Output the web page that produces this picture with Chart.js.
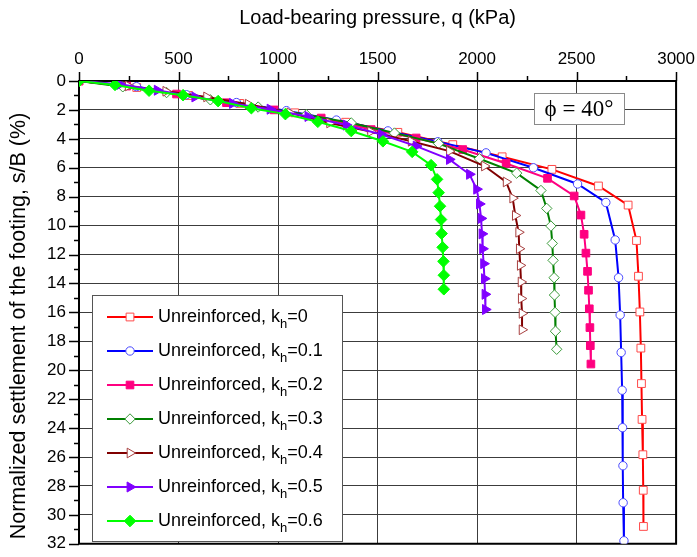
<!DOCTYPE html>
<html><head><meta charset="utf-8">
<script src="https://cdn.jsdelivr.net/npm/chart.js@4/dist/chart.umd.min.js"></script>
<style>html,body{margin:0;padding:0;background:#fff;}</style>
</head><body>
<canvas id="c" width="697" height="557"></canvas>
<script>
// ---- data ----
const khLabels = ['0', '0.1', '0.2', '0.3', '0.4', '0.5', '0.6'];
const xTickLabels = [0, 500, 1000, 1500, 2000, 2500, 3000];
const yTickLabels = [0, 2, 4, 6, 8, 10, 12, 14, 16, 18, 20, 22, 24, 26, 28, 30, 32];

const q_kh0  = [0, 290, 550, 808, 1084, 1340, 1602, 1878, 2126, 2376, 2610, 2759, 2801, 2811, 2818, 2823, 2826, 2829, 2833, 2835, 2836];
const s_kh0  = [0, 0.45, 1.0, 1.55, 2.2, 2.85, 3.55, 4.4, 5.24, 6.11, 7.26, 8.58, 11.03, 13.5, 15.97, 18.47, 20.92, 23.4, 25.84, 28.3, 30.8];

const q_kh01 = [0, 289, 540, 791, 1042, 1293, 1552, 1803, 2045, 2283, 2505, 2647, 2694, 2711, 2719, 2724, 2729, 2731, 2733, 2734, 2738];
const s_kh01 = [0, 0.39, 0.95, 1.49, 2.05, 2.7, 3.45, 4.2, 4.97, 6.0, 7.12, 8.4, 10.99, 13.6, 16.18, 18.77, 21.38, 23.97, 26.6, 29.16, 31.79];

const q_kh02 = [0, 240, 490, 741, 980, 1217, 1468, 1694, 1928, 2146, 2354, 2488, 2522, 2538, 2547, 2555, 2560, 2564, 2567, 2569, 2572];
const s_kh02 = [0, 0.35, 0.9, 1.5, 2.0, 2.56, 3.36, 3.94, 4.74, 5.7, 6.73, 7.95, 9.27, 10.6, 11.9, 13.16, 14.47, 15.75, 17.05, 18.3, 19.57];

const q_kh03 = [0, 220, 440, 660, 900, 1142, 1368, 1585, 1807, 2012, 2199, 2321, 2350, 2371, 2378, 2382, 2387, 2389, 2392, 2394, 2400];
const s_kh03 = [0, 0.4, 0.8, 1.3, 1.8, 2.33, 2.9, 3.6, 4.33, 5.38, 6.37, 7.57, 8.81, 10.03, 11.23, 12.4, 13.6, 14.8, 16.0, 17.3, 18.55];

const q_kh04 = [0, 247, 436, 641, 850, 1059, 1259, 1465, 1669, 1861, 2037, 2146, 2179, 2192, 2209, 2212, 2217, 2221, 2222, 2226, 2226];
const s_kh04 = [0, 0.34, 0.71, 1.1, 1.6, 2.2, 2.9, 3.5, 4.17, 4.85, 5.88, 6.98, 8.1, 9.3, 10.46, 11.6, 12.75, 13.9, 15.04, 16.07, 17.2];

const q_kh05 = [0, 206, 393, 582, 771, 960, 1150, 1343, 1520, 1694, 1861, 1962, 1998, 2012, 2020, 2025, 2028, 2033, 2037, 2040, 2042];
const s_kh05 = [0, 0.23, 0.64, 1.1, 1.55, 1.95, 2.45, 3.05, 3.7, 4.5, 5.42, 6.45, 7.48, 8.5, 9.5, 10.57, 11.6, 12.63, 13.67, 14.75, 15.8];

const q_kh06 = [0, 181, 352, 523, 699, 866, 1037, 1200, 1368, 1527, 1674, 1769, 1799, 1807, 1814, 1819, 1822, 1827, 1831, 1833, 1833];
const s_kh06 = [0, 0.27, 0.67, 0.98, 1.39, 1.88, 2.29, 2.82, 3.46, 4.17, 4.9, 5.82, 6.8, 7.72, 8.66, 9.58, 10.55, 11.5, 12.47, 13.43, 14.4];

const qSeries = [q_kh0, q_kh01, q_kh02, q_kh03, q_kh04, q_kh05, q_kh06];
const sSeries = [s_kh0, s_kh01, s_kh02, s_kh03, s_kh04, s_kh05, s_kh06];

const xTitle = 'Load-bearing pressure, q (kPa)';
const yTitle = 'Normalized settlement of the footing, s/B (%)';

// ---- styles ----
const styles = [
  {line:'#ff0000', ps:'rect',     rot:0,  r:5.5, stroke:'#ff4a4a', fill:'#ffffff'},
  {line:'#0000ff', ps:'circle',   rot:0,  r:4.2, stroke:'#4a4aff', fill:'#ffffff'},
  {line:'#ff0080', ps:'rect',     rot:0,  r:5.4, stroke:'#ff0080', fill:'#ff0080'},
  {line:'#008000', ps:'rectRot',  rot:0,  r:5.2, stroke:'#3a9a3a', fill:'#ffffff'},
  {line:'#800000', ps:'triangle', rot:90, r:5.6, stroke:'#a84040', fill:'#ffffff'},
  {line:'#8000ff', ps:'triangle', rot:90, r:5.8, stroke:'#8000ff', fill:'#8000ff'},
  {line:'#00ff00', ps:'rectRot',  rot:0,  r:5.8, stroke:'#00ff00', fill:'#00ff00'}
];

Chart.defaults.font.family = '"Liberation Sans", Arial, sans-serif';
Chart.defaults.color = '#000';

const datasets = qSeries.map((qs, i) => ({
  label: 'Unreinforced, kh=' + khLabels[i],
  data: qs.map((q, j) => ({x: q, y: sSeries[i][j]})),
  borderColor: styles[i].line,
  backgroundColor: styles[i].fill,
  borderWidth: 2,
  pointStyle: styles[i].ps,
  pointRotation: styles[i].rot,
  pointRadius: styles[i].r,
  pointBorderColor: styles[i].stroke,
  pointBackgroundColor: styles[i].fill,
  pointBorderWidth: 1,
  showLine: true,
  tension: 0,
  order: 6 - i
}));

const X_MAJOR = 9, X_MINOR = 5, Y_MAJOR = 10, Y_MINOR = 5;

const framePlugin = {
  id: 'frame',
  beforeDatasetsDraw(chart) {
    const {ctx, chartArea: a, scales} = chart;
    ctx.save();
    ctx.strokeStyle = '#000';
    ctx.lineWidth = 1.5;
    scales.x.ticks.forEach(t => {
      const px = Math.round(scales.x.getPixelForValue(t.value)) + 0.5;
      const len = (t.value % 500 === 0) ? X_MAJOR : X_MINOR;
      ctx.beginPath(); ctx.moveTo(px, a.top); ctx.lineTo(px, a.top - len); ctx.stroke();
    });
    scales.y.ticks.forEach(t => {
      const py = Math.round(scales.y.getPixelForValue(t.value)) + 0.5;
      const len = (t.value % 2 === 0) ? Y_MAJOR : Y_MINOR;
      ctx.beginPath(); ctx.moveTo(a.left, py); ctx.lineTo(a.left - len, py); ctx.stroke();
    });
    ctx.lineWidth = 2;
    ctx.beginPath();
    ctx.moveTo(a.right, a.top); ctx.lineTo(a.right, a.bottom); ctx.lineTo(a.left, a.bottom);
    ctx.stroke();
    // y axis title
    ctx.save();
    ctx.translate(19, 326);
    ctx.rotate(-Math.PI / 2);
    ctx.fillStyle = '#000';
    ctx.font = '21.5px "Liberation Sans", Arial, sans-serif';
    ctx.textAlign = 'center';
    ctx.textBaseline = 'middle';
    ctx.fillText(yTitle, 0, 0);
    ctx.restore();
    ctx.restore();
  },
  afterDraw(chart) {
    const {ctx} = chart;
    ctx.save();
    // phi box
    ctx.fillStyle = '#fff';
    ctx.strokeStyle = '#8a8a8a';
    ctx.lineWidth = 1;
    ctx.fillRect(534, 93, 90, 31);
    ctx.strokeRect(534.5, 93.5, 90, 31);
    ctx.fillStyle = '#000';
    ctx.font = '23px "Liberation Serif", "DejaVu Serif", serif';
    ctx.textAlign = 'center';
    ctx.textBaseline = 'middle';
    ctx.fillText('\u03D5 = 40\u00B0', 579, 110);

    // legend
    const lx = 92, ly = 295, lw = 250, lh = 246;
    ctx.fillStyle = '#fff';
    ctx.fillRect(lx, ly, lw, lh);
    ctx.strokeStyle = '#555';
    ctx.strokeRect(lx + 0.5, ly + 0.5, lw, lh);
    chart.data.datasets.forEach((ds, i) => {
      const y = 317 + i * 34;
      ctx.strokeStyle = ds.borderColor;
      ctx.lineWidth = 2;
      ctx.beginPath(); ctx.moveTo(107, y); ctx.lineTo(153, y); ctx.stroke();
      ctx.fillStyle = ds.pointBackgroundColor;
      ctx.strokeStyle = ds.pointBorderColor;
      ctx.lineWidth = 1;
      Chart.helpers.drawPoint(ctx, {pointStyle: ds.pointStyle, rotation: ds.pointRotation, radius: ds.pointRadius, borderWidth: 1}, 130, y);
      ctx.fillStyle = '#000';
      ctx.textAlign = 'left';
      ctx.textBaseline = 'middle';
      ctx.font = '18px "Liberation Sans", Arial, sans-serif';
      const t1 = 'Unreinforced, k';
      ctx.fillText(t1, 158, y);
      let x = 158 + ctx.measureText(t1).width;
      ctx.font = '13px "Liberation Sans", Arial, sans-serif';
      ctx.fillText('h', x, y + 7);
      x += ctx.measureText('h').width;
      ctx.font = '18px "Liberation Sans", Arial, sans-serif';
      ctx.fillText('=' + khLabels[i], x, y);
    });
    ctx.restore();
  }
};

new Chart(document.getElementById('c'), {
  type: 'scatter',
  data: {datasets},
  options: {
    responsive: false,
    animation: false,
    devicePixelRatio: 1,
    layout: {padding: {left: 0, top: 0, right: 20, bottom: 10}},
    plugins: {legend: {display: false}, tooltip: {enabled: false}},
    scales: {
      x: {
        type: 'linear', position: 'top', min: 0, max: 3000,
        afterFit(s) { s.height = 81; },
        ticks: {
          stepSize: 250, autoSkip: false, maxRotation: 0, padding: 2,
          font: {size: 17},
          callback: v => xTickLabels.includes(v) ? String(v) : ''
        },
        grid: {
          color: c => (c.tick && c.tick.value % 500 === 0 && c.tick.value > 0 && c.tick.value < 3000) ? '#3c3c3c' : 'rgba(0,0,0,0)',
          lineWidth: 1, drawTicks: true, tickLength: 9, tickColor: 'rgba(0,0,0,0)'
        },
        border: {display: true, color: '#000', width: 2},
        title: {display: true, text: xTitle, font: {size: 20}, padding: {top: 6, bottom: 0}}
      },
      y: {
        type: 'linear', reverse: true, min: 0, max: 32,
        afterFit(s) { s.width = 79; },
        ticks: {
          stepSize: 1, autoSkip: false, padding: 3,
          font: {size: 17},
          callback: v => yTickLabels.includes(v) ? String(v) : ''
        },
        grid: {
          color: c => (c.tick && c.tick.value % 2 === 0 && c.tick.value > 0 && c.tick.value < 32) ? '#3c3c3c' : 'rgba(0,0,0,0)',
          lineWidth: 1, drawTicks: true, tickLength: 10, tickColor: 'rgba(0,0,0,0)'
        },
        border: {display: true, color: '#000', width: 2},
        title: {display: false, text: yTitle}
      }
    }
  },
  plugins: [framePlugin]
});
</script>
</body></html>
